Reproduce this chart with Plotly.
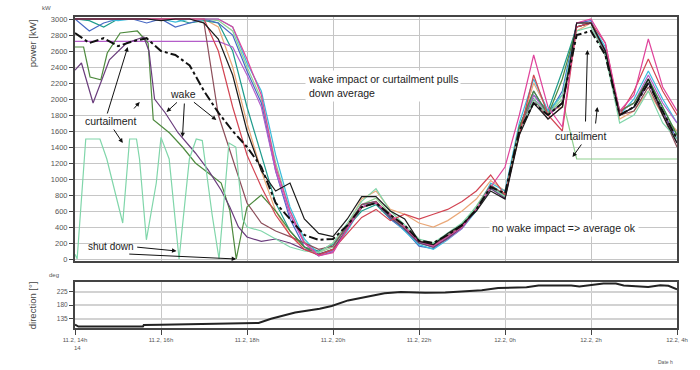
import plotly.graph_objects as go

# ---------------- data ----------------
# shared 20-minute time grid, hours since 11.2 00:00 (14h .. 28h = 12.2 4h)
TIME = [14 + i / 3 for i in range(43)]

T01 = [3000,3000,3000,3000,3000,3000,3000,3000,3000,3000,3000,2900,2500,2050,1150,600,200,40,80,380,650,700,560,400,220,160,280,400,620,900,1150,1800,2550,1900,1650,2950,3000,2700,1850,2050,2750,2150,1850]
T02 = [3000,3000,3000,2980,3000,3000,3000,2960,3000,3000,3000,2900,2450,2100,1300,650,250,60,100,350,650,700,520,350,180,120,240,380,600,950,850,1700,2250,1850,2050,2900,2950,2650,1800,2000,2350,2000,1700]
T03 = [3000,2850,2950,3000,3000,2950,3000,2900,2950,3000,2950,2800,2350,1950,1100,500,150,40,90,380,680,720,500,360,160,130,260,400,640,920,780,1650,2100,1800,2100,2950,2980,2600,1800,1900,2200,1850,1500]
T04 = [3000,3000,3000,3000,3000,3000,3000,3000,3000,3000,2600,1900,1300,900,550,300,120,50,120,320,520,620,480,560,500,560,620,720,850,1050,800,1550,2300,1800,1600,2900,2950,2700,1800,2100,2500,2100,1800]
T05 = [3000,3000,3000,3000,3000,3000,3000,3000,3000,3000,2900,2400,1700,1100,600,300,150,80,200,420,750,850,620,560,450,400,480,600,750,980,850,1600,2200,1850,1900,2850,2950,2600,1750,1850,2100,1800,1600]
T06 = [3000,2980,2900,3000,3000,3000,3000,3000,2950,2980,2950,2600,1900,1300,700,350,150,100,180,400,600,680,500,380,200,180,280,400,620,880,780,1650,2050,1850,2350,2900,2950,2550,1850,1950,2250,1900,1550]
T07 = [2720,2720,2720,2720,2720,2720,2720,2720,2720,2720,2720,2650,2300,1900,1100,550,200,60,100,380,650,700,520,380,210,150,250,380,620,900,760,1600,2050,1800,1950,2900,2950,2550,1850,1950,2300,1950,1700]
T08 = [3000,3000,3000,3000,3000,3000,2980,3000,3000,2950,2750,2300,1600,1100,850,950,500,320,280,500,780,780,600,500,220,180,320,430,600,850,750,1550,1950,1750,1900,2950,2950,2600,1800,1900,2250,1800,1450]
T10 = [3000,3000,3000,3000,3000,3000,3000,3000,3000,2950,1800,1250,700,450,350,280,200,120,160,420,680,720,540,400,230,170,290,420,640,920,800,1650,2000,1750,1900,2950,2950,2550,1800,1850,2150,1800,1400]
T14 = [3000,3000,3000,3000,3000,3000,3000,3000,3000,3000,2980,2850,2400,2000,1200,600,220,80,150,420,680,760,560,400,220,190,300,430,660,930,800,1650,2000,1800,2000,1250,1250,1250,1250,1250,1250,1250,1250]
AVG = [2825,2700,2760,2660,2720,2760,2600,2550,2420,2100,1830,1600,1400,1150,700,500,300,240,250,420,650,700,550,420,230,200,300,420,620,900,820,1600,1950,1800,1950,2800,2850,2550,1800,1900,2200,1850,1500]

# series with finer early detail (own early times, then shared grid from index 13 = 18.33h)
T09_EARLY_T = [14.0,14.2,14.35,14.6,14.75,15.05,15.45,15.7,15.82,16.2,16.5,16.8,17.1,17.4,17.6,17.75,17.9,18.0]
T09_EARLY_V = [2650,2650,2275,2240,2575,2825,2850,2700,1740,1575,1400,1200,1075,950,610,0,400,650]
T09_LATE_V = [800,600,350,150,60,120,380,640,700,520,380,200,150,260,400,620,900,780,1650,2100,1800,2250,2900,2950,2600,1850,1950,2250,1900,1550]

T12_EARLY_T = [14.0,14.15,14.42,14.8,15.2,15.6,15.72,15.85,16.1,16.4,16.8,17.1,17.4,17.6,17.8,18.0]
T12_EARLY_V = [2360,2450,1950,2490,2700,2775,2600,2000,1825,1575,1325,1110,860,650,400,275]
T12_LATE_V = [220,250,200,120,60,120,380,650,700,520,370,200,150,260,400,620,880,760,1600,2000,1800,1950,2900,2950,2600,1800,1900,2200,1850,1450]

T13_EARLY_T = [14.0,14.05,14.25,14.58,14.74,14.88,15.11,15.27,15.43,15.5,15.66,15.89,16.0,16.19,16.42,16.66,16.82,16.96,17.19,17.35,17.58,17.74,17.9,18.0]
T13_EARLY_V = [60,0,1500,1500,1250,950,450,1500,1500,1250,240,950,1520,1250,0,1250,1500,1480,550,0,1450,1400,500,400]
T13_LATE_V = [350,250,150,100,80,200,450,720,880,600,420,250,200,330,450,650,900,780,1600,2000,1800,2050,2850,2900,2550,1700,1800,2100,1700,1500]

DIR_T = [14.0,14.08,15.58,15.6,16.0,17.42,18.27,18.56,19.12,19.69,19.97,20.35,20.92,21.2,21.58,22.14,22.61,23.46,23.84,24.5,24.78,25.54,25.73,26.29,26.58,26.76,27.33,27.61,27.8,28.0]
DIR_V = [114,108,108,113,114,117,120,134,155,168,177,196,213,220,224,222,223,230,238,240,246,246,243,253,253,246,241,247,245,233]

X_TICKS = [14,16,18,20,22,24,26,28]
X_LABELS = ["11.2, 14h","11.2, 16h","11.2, 18h","11.2, 20h","11.2, 22h","12.2, 0h","12.2, 2h","12.2, 4h"]
Y_TICKS = list(range(0, 3001, 200))
DIR_TICKS = [135, 180, 225]

# ---------------- figure ----------------
W, H = 700, 370
ML, MR, MT, MB = 75, 20, 17, 42
PW, PH = W - ML - MR, H - MT - MB
FONT = "Arial, Liberation Sans, sans-serif"

def pxx(px):
    return (px - ML) / PW

def pxy(py):
    return (H - MB - py) / PH

def dx(px):
    return 14 + (px - ML) / PW * 14

def dy(py):
    return 3025 - (py - 17) / 244 * 3050

fig = go.Figure()

series = [
    (TIME, T14, "#8fd08f"),
    (TIME, T05, "#eaa878"),
    (TIME, T06, "#1f9c8c"),
    (TIME, T03, "#4668c4"),
    (TIME, T02, "#3cbcdc"),
    (TIME, T07, "#b45ec9"),
    (TIME, T10, "#8c4e5a"),
    (T09_EARLY_T + TIME[13:], T09_EARLY_V + T09_LATE_V, "#4e8a3e"),
    (T12_EARLY_T + TIME[13:], T12_EARLY_V + T12_LATE_V, "#6a3c7c"),
    (T13_EARLY_T + TIME[13:], T13_EARLY_V + T13_LATE_V, "#80d6aa"),
    (TIME, T04, "#d24452"),
    (TIME, T01, "#e0449c"),
    (TIME, T08, "#1a1a1a"),
]
for xs, ys, c in series:
    fig.add_trace(go.Scatter(x=xs, y=ys, mode="lines", line=dict(color=c, width=1.2),
                             xaxis="x", yaxis="y", hoverinfo="skip"))

fig.add_trace(go.Scatter(x=TIME, y=AVG, mode="lines", line=dict(color="#111", width=2, dash="dashdot"),
                         xaxis="x", yaxis="y", hoverinfo="skip"))

fig.add_trace(go.Scatter(x=DIR_T, y=DIR_V, mode="lines", line=dict(color="#222", width=2),
                         xaxis="x2", yaxis="y2", hoverinfo="skip"))

axis_common = dict(showline=True, mirror=True, linecolor="#444", linewidth=2, zeroline=False)

fig.update_layout(
    width=W, height=H,
    margin=dict(l=ML, r=MR, t=MT, b=MB),
    paper_bgcolor="white", plot_bgcolor="white",
    showlegend=False,
    font=dict(family=FONT, color="#333"),
    xaxis=dict(domain=[0, 1], range=[14, 28], anchor="y", tickvals=X_TICKS, showticklabels=False,
               showgrid=True, gridcolor="#c4c4c4", gridwidth=1, ticks="", **axis_common),
    yaxis=dict(domain=[pxy(261), 1], range=[-25, 3025], tickvals=Y_TICKS, ticktext=[str(v) for v in Y_TICKS],
               ticks="outside", ticklen=4, tickcolor="#444", tickfont=dict(size=7.5, color="#555"),
               showgrid=True, gridcolor="#c6c6c6", gridwidth=1, **axis_common),
    xaxis2=dict(domain=[0, 1], range=[14, 28], anchor="y2", tickvals=X_TICKS, ticktext=X_LABELS,
                ticks="outside", ticklen=5, tickcolor="#444", tickfont=dict(size=6, color="#555"),
                showgrid=True, gridcolor="#c8c8c8", gridwidth=1, **axis_common),
    yaxis2=dict(domain=[0, pxy(282)], range=[103, 258], tickvals=DIR_TICKS, ticktext=[str(v) for v in DIR_TICKS],
                ticks="outside", ticklen=4, tickcolor="#444", tickfont=dict(size=6.5, color="#555"),
                showgrid=True, gridcolor="#d2d2d2", gridwidth=2, anchor="x2", **axis_common),
)

ann = []

def label(text, px, py, size=9, angle=0, xanchor="center", bg=None, color="#222"):
    d = dict(text=text, x=pxx(px), y=pxy(py), xref="paper", yref="paper", showarrow=False,
             font=dict(size=size, family=FONT, color=color), textangle=angle, xanchor=xanchor, yanchor="middle",
             align="left")
    if bg:
        d.update(bgcolor=bg, borderpad=2)
    ann.append(d)

def arrow(x0, y0, x1, y1, head=2):
    ann.append(dict(x=dx(x1), y=dy(y1), ax=dx(x0), ay=dy(y0), xref="x", yref="y", axref="x", ayref="y",
                    text="", showarrow=True, arrowhead=head, arrowsize=0.9, arrowwidth=1, arrowcolor="#111"))

label("kW", 46, 8, size=6, color="#555")
label("power [kW]", 32, 43, size=9.5, angle=-90, color="#444")
label("deg", 54, 275, size=6, color="#555")
label("direction [°]", 32, 305, size=9.5, angle=-90, color="#444")
label("14", 78, 348, size=6, color="#555")
label("Date h", 668, 362, size=5, color="#555")

label("curtailment", 111, 121, size=10.5)
arrow(107, 115, 128, 47)
arrow(133, 110, 140, 102)
arrow(113, 128, 123, 143)

label("wake", 184, 94, size=10.5)
arrow(179, 101, 167, 112)
arrow(185, 102, 183, 137)
arrow(193, 101, 217, 120)

label("shut down", 111, 247, size=10)
arrow(136, 247, 177, 251)
arrow(128, 254, 237, 259)

label("wake impact or curtailment pulls<br>down average", 306, 86, size=10.5, xanchor="left", bg="white")
label("no wake impact => average ok", 566, 228, size=10.5, bg="white")

label("curtailment", 583, 136, size=10.5)
arrow(588, 123, 590, 50)
arrow(598, 125, 600, 107)
arrow(585, 143, 575, 157)

fig.update_layout(annotations=ann)
fig.write_html("out.html")
